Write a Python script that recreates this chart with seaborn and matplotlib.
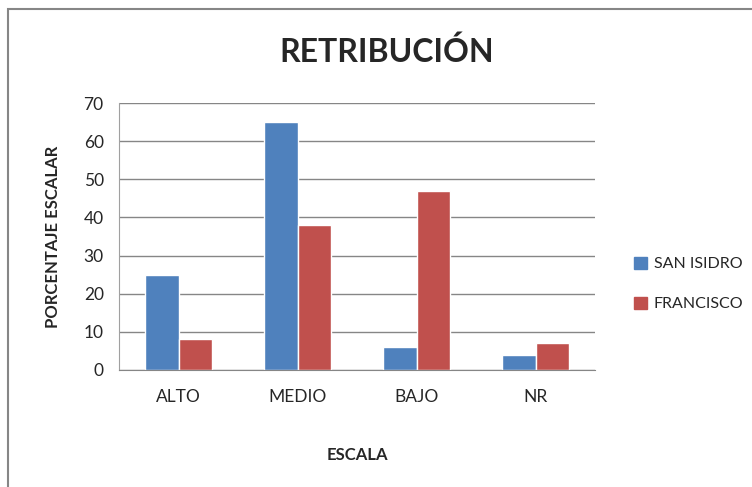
import matplotlib
matplotlib.use("Agg")
import matplotlib.pyplot as plt
import matplotlib.patches as mpatches
import seaborn as sns
import pandas as pd

categorias = ["ALTO", "MEDIO", "BAJO", "NR"]
san_isidro = [25, 65, 6, 4]
francisco = [8, 38, 47, 7]
series = ["SAN ISIDRO", "FRANCISCO"]
colores = ["#4F81BD", "#C0504D"]

df = pd.DataFrame({
    "ESCALA": categorias * 2,
    "valor": san_isidro + francisco,
    "serie": [series[0]] * 4 + [series[1]] * 4,
})

sns.set_style("white")
plt.rcParams["font.family"] = ["Lato", "DejaVu Sans"]

fig = plt.figure(figsize=(7.52, 4.87), dpi=100)
ax = fig.add_axes([119 / 752, 1 - 370 / 487, 476 / 752, 267 / 487])

sns.barplot(data=df, x="ESCALA", y="valor", hue="serie", palette=colores,
            width=0.57, saturation=1, ax=ax, legend=False)

ax.set_ylim(0, 70)
ax.set_xlim(-0.5, 3.5)
ax.set_yticks(range(0, 71, 10))
ax.yaxis.grid(True, color="#868686", linewidth=1)
ax.set_axisbelow(True)
for s in ["top", "right"]:
    ax.spines[s].set_visible(False)
ax.spines["left"].set_color("#A0A0A0")
ax.spines["bottom"].set_color("#868686")
ax.tick_params(axis="y", length=7, color="#868686", labelsize=12.5, pad=4)
ax.tick_params(axis="x", length=0, labelsize=12.5, pad=14)

ax.set_xlabel("ESCALA", fontsize=12, fontweight="bold", labelpad=30)
ax.set_ylabel("PORCENTAJE ESCALAR", fontsize=12, fontweight="bold", labelpad=16)

fig.text(387 / 752, 1 - 52 / 487, "RETRIBUCIÓN", fontsize=23, fontweight="bold",
         ha="center", va="center")

handles = [mpatches.Patch(color=c, label=l) for c, l in zip(colores, series)]
fig.legend(handles=handles, loc="center left", bbox_to_anchor=(620 / 752, 1 - 284 / 487),
           frameon=False, fontsize=11.5, handlelength=0.8, handleheight=0.8,
           handletextpad=0.4, labelspacing=1.6)

border = mpatches.Rectangle((8 / 752, -0.1), 1.2, 1 - 9 / 487 + 0.1,
                            transform=fig.transFigure, fill=False,
                            edgecolor="#868686", linewidth=1.5)
fig.patches.append(border)

fig.savefig("out.png", dpi=100)
